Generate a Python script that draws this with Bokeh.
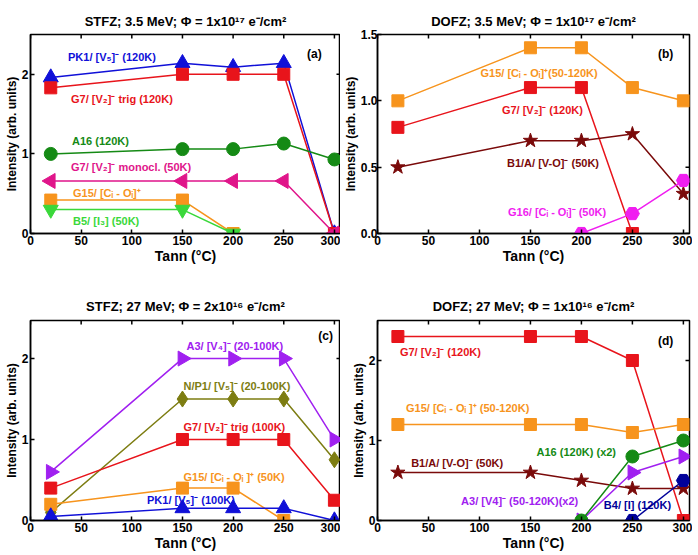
import math
from bokeh.plotting import figure
from bokeh.models import Range1d, FixedTicker, Label, PrintfTickFormatter
from bokeh.layouts import column, row
from bokeh.embed import file_html
from bokeh.resources import INLINE

# ---------------- data ----------------
T = [20, 150, 200, 250, 300]

# (a) STFZ 3.5 MeV
a_pk1 = [1.96, 2.14, 2.09, 2.14, 0.0]
a_g7t = [1.83, 2.0, 2.0, 2.0, 0.0]
a_a16 = [1.0, 1.06, 1.06, 1.13, 0.93]
a_g7m = [0.66, 0.66, 0.66, 0.66, 0.0]
a_g15_T = [20, 150, 200]
a_g15 = [0.42, 0.42, 0.0]
a_b5_T = [20, 150, 200]
a_b5 = [0.30, 0.30, 0.0]

# (b) DOFZ 3.5 MeV
b_g15 = [1.0, 1.4, 1.4, 1.1, 1.0]
b_g7_T = [20, 150, 200, 250]
b_g7 = [0.8, 1.1, 1.1, 0.0]
b_b1 = [0.5, 0.7, 0.7, 0.75, 0.3]
b_g16_T = [200, 250, 300]
b_g16 = [0.0, 0.15, 0.4]

# (c) STFZ 27 MeV
c_a3 = [0.6, 2.0, 2.0, 2.0, 1.0]
c_np1 = [0.1, 1.5, 1.5, 1.5, 0.75]
c_g7 = [0.4, 1.0, 1.0, 1.0, 0.25]
c_g15_T = [20, 150, 200, 250]
c_g15 = [0.2, 0.4, 0.4, 0.0]
c_pk1 = [0.05, 0.15, 0.15, 0.15, 0.0]

# (d) DOFZ 27 MeV
d_g7 = [2.3, 2.3, 2.3, 2.0, 0.0]
d_g15 = [1.2, 1.2, 1.2, 1.1, 1.2]
d_b1 = [0.6, 0.6, 0.5, 0.4, 0.4]
d_a16_T = [200, 250, 300]
d_a16 = [0.0, 0.8, 1.0]
d_a3_T = [200, 250, 300]
d_a3 = [0.0, 0.6, 0.8]
d_b4_T = [250, 300]
d_b4 = [0.0, 0.5]

x_ticks = [0, 50, 100, 150, 200, 250, 300]
X_MAX = 306

FONT = "Liberation Sans"
BLUE = "#1010d8"
RED = "#e8141b"
GREEN = "#158a15"
PINK = "#e0158a"
ORANGE = "#f7941d"
LIME = "#3ad83a"
DKRED = "#7a0a0a"
MAGENTA = "#f01ef0"
PURPLE = "#a020f0"
OLIVE = "#7d7d12"
NAVY = "#000099"


def style_axis(ax, ticks, fmt=None, standoff=2):
    ax.ticker = FixedTicker(ticks=ticks)
    ax.major_tick_in = 4
    ax.major_tick_out = 0
    ax.minor_tick_in = 0
    ax.minor_tick_out = 0
    ax.axis_line_color = "black"
    ax.axis_line_width = 1.5
    ax.major_tick_line_color = "black"
    ax.major_tick_line_width = 1.5
    ax.major_label_text_font = FONT
    ax.major_label_text_font_style = "bold"
    ax.major_label_text_font_size = "12px"
    ax.major_label_text_color = "black"
    ax.major_label_standoff = standoff
    ax.axis_label_text_font = FONT
    ax.axis_label_text_font_style = "bold"
    ax.axis_label_text_color = "black"
    if fmt is not None:
        ax.formatter = fmt


def make_fig(title, width, height, ymax, yticks, left, right, top, bottom, yfmt=None,
             tstand=11, ystand=2):
    p = figure(width=width, height=height, x_range=Range1d(0, X_MAX), y_range=Range1d(0, ymax),
               output_backend="svg", toolbar_location=None, title=title,
               min_border_left=left, min_border_right=right, min_border_top=top,
               min_border_bottom=bottom)
    p.grid.visible = False
    p.outline_line_color = "black"
    p.outline_line_width = 1.5
    p.background_fill_color = "white"
    p.border_fill_color = "white"
    p.title.align = "center"
    p.title.text_font = FONT
    p.title.text_font_style = "bold"
    p.title.text_font_size = "13px"
    p.title.text_color = "black"
    p.title.standoff = tstand
    p.title.offset = 0
    style_axis(p.xaxis[0], x_ticks)
    style_axis(p.yaxis[0], yticks, yfmt, ystand)
    p.xaxis[0].axis_label = "Tann (°C)"
    p.xaxis[0].axis_label_text_font_size = "14px"
    p.xaxis[0].axis_label_standoff = 0
    p.yaxis[0].axis_label = "Intensity (arb. units)"
    p.yaxis[0].axis_label_text_font_size = "12px"
    p.yaxis[0].axis_label_standoff = 0
    # mirrored inward ticks on top and right edges (half of each dash is clipped by the frame)
    p.scatter(x_ticks, [ymax] * len(x_ticks), marker="dash", angle=math.pi / 2, size=8,
              line_color="black", line_width=1.5)
    p.scatter([X_MAX] * len(yticks), yticks, marker="dash", size=8,
              line_color="black", line_width=1.5)
    return p


def series(p, xs, ys, color, marker, size=12, angle=0.0, line_color=None):
    p.line(xs, ys, line_color=line_color or color, line_width=1.5)
    p.scatter(xs, ys, marker=marker, size=size, angle=angle, fill_color=color,
              line_color=color, line_width=1)


def label(p, x, y, text, color, size="11px"):
    p.add_layout(Label(x=x, y=y, text=text, text_color=color, text_font=FONT,
                       text_font_style="bold", text_font_size=size,
                       text_baseline="middle", text_align="left"))


LEFTA = math.pi / 2
RIGHTA = -math.pi / 2

H1 = 275
H2 = 278
WL = 340
WR = 352

# ---------------- (a) ----------------
fa = make_fig("STFZ; 3.5 MeV; Φ = 1x10¹⁷ e⁻/cm²", WL, H1, 2.5, [0, 1, 2], 30, 0, 34, 42)
series(fa, T, a_pk1, BLUE, "triangle", 15)
series(fa, T, a_g7t, RED, "square", 12)
series(fa, T, a_a16, GREEN, "circle", 13)
series(fa, T, a_g7m, PINK, "triangle", 15, LEFTA)
series(fa, a_g15_T, a_g15, ORANGE, "square", 12)
series(fa, a_b5_T, a_b5, LIME, "inverted_triangle", 15)
label(fa, 37, 2.22, "PK1/ [V₅]⁻ (120K)", BLUE)
label(fa, 40, 1.69, "G7/ [V₂]⁻ trig (120K)", RED)
label(fa, 41, 1.16, "A16 (120K)", GREEN)
label(fa, 40, 0.83, "G7/ [V₂]⁻ monocl. (50K)", PINK)
label(fa, 42, 0.51, "G15/ [Cᵢ - Oᵢ]⁺", ORANGE)
label(fa, 42, 0.16, "B5/ [I₃] (50K)", LIME)
label(fa, 273, 2.25, "(a)", "black", "12px")

# ---------------- (b) ----------------
fb = make_fig("DOFZ; 3.5 MeV; Φ = 1x10¹⁷ e⁻/cm²", WR, H1, 1.5, [0, 0.5, 1.0, 1.5], 37, 3, 34, 42,
              PrintfTickFormatter(format="%.1f"), ystand=0)
series(fb, T, b_g15, ORANGE, "square", 12)
series(fb, b_g7_T, b_g7, RED, "square", 12)
series(fb, T, b_b1, DKRED, "star", 15)
series(fb, b_g16_T, b_g16, MAGENTA, "hex", 14)
label(fb, 101, 1.21, "G15/ [Cᵢ - Oᵢ]⁺(50-120K)", ORANGE)
label(fb, 122, 0.93, "G7/ [V₂]⁻ (120K)", RED)
label(fb, 127, 0.53, "B1/A/ [V-O]⁻ (50K)", DKRED)
label(fb, 128, 0.16, "G16/ [Cᵢ - Oᵢ]⁻ (50K)", MAGENTA)
label(fb, 275, 1.35, "(b)", "black", "12px")

# ---------------- (c) ----------------
fc = make_fig("STFZ; 27 MeV; Φ = 2x10¹⁶ e⁻/cm²", WL, H2, 2.47, [0, 1, 2], 30, 0, 45, 33,
              tstand=13)
series(fc, T, c_a3, PURPLE, "triangle", 15, RIGHTA)
series(fc, T, c_np1, OLIVE, "diamond", 16)
series(fc, T, c_g7, RED, "square", 12)
series(fc, c_g15_T, c_g15, ORANGE, "square", 12)
series(fc, T, c_pk1, BLUE, "triangle", 15)
label(fc, 154, 2.16, "A3/ [V₄]⁻ (20-100K)", PURPLE)
label(fc, 151, 1.66, "N/P1/ [V₅]⁻ (20-100K)", OLIVE)
label(fc, 151, 1.16, "G7/ [V₂]⁻ trig (100K)", RED)
label(fc, 151, 0.54, "G15/ [Cᵢ - Oᵢ ]⁺ (50K)", ORANGE)
label(fc, 115, 0.25, "PK1/ [V₅]⁻ (100K)", BLUE)
label(fc, 284, 2.28, "(c)", "black", "12px")

# ---------------- (d) ----------------
fd = make_fig("DOFZ; 27 MeV; Φ = 1x10¹⁶ e⁻/cm²", WR, H2, 2.5, [0, 1, 2], 37, 3, 45, 33,
              tstand=13)
series(fd, T, d_g7, RED, "square", 12)
series(fd, T, d_g15, ORANGE, "square", 12)
series(fd, T, d_b1, DKRED, "star", 15)
series(fd, d_a3_T, d_a3, PURPLE, "triangle", 15, RIGHTA)
series(fd, d_a16_T, d_a16, GREEN, "circle", 13)
series(fd, d_b4_T, d_b4, NAVY, "hex", 14)
label(fd, 22, 2.11, "G7/ [V₂]⁻ (120K)", RED)
label(fd, 28, 1.41, "G15/ [Cᵢ - Oᵢ ]⁺ (50-120K)", ORANGE)
label(fd, 33, 0.72, "B1/A/ [V-O]⁻ (50K)", DKRED)
label(fd, 156, 0.86, "A16 (120K) (x2)", GREEN)
label(fd, 82, 0.25, "A3/ [V4]⁻ (50-120K)(x2)", PURPLE)
label(fd, 222, 0.19, "B4/ [I] (120K)", NAVY)
label(fd, 275, 2.25, "(d)", "black", "12px")

layout = column(row(fa, fb), row(fc, fd))
open("out.html", "w").write(file_html(layout, INLINE))
